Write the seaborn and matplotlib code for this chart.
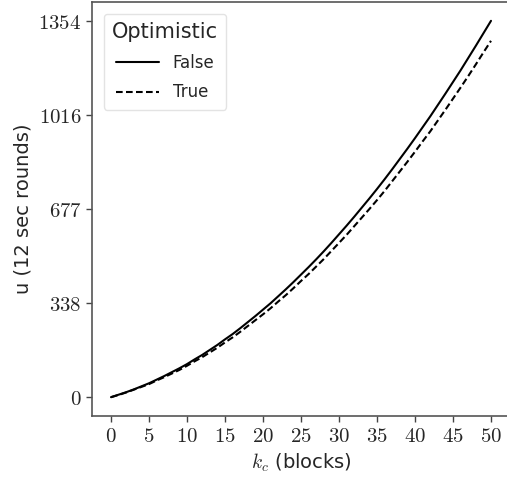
import numpy as np
import pandas as pd
import matplotlib
matplotlib.use("Agg")
import matplotlib.pyplot as plt
import seaborn as sns

# data (one estimate per block)
k_c = list(range(0, 51))
u_false = [0, 9, 18, 28, 39, 50, 63, 76, 90, 104,
           119, 136, 152, 170, 188, 208, 227, 248, 270, 292,
           315, 338, 363, 388, 414, 441, 468, 496, 525, 555,
           586, 617, 649, 682, 715, 749, 784, 820, 857, 894,
           932, 971, 1010, 1051, 1092, 1134, 1176, 1220, 1264, 1309,
           1354]
u_true = [0, 8, 17, 27, 37, 47, 60, 72, 85, 98,
          113, 129, 144, 161, 178, 197, 215, 235, 256, 277,
          298, 320, 344, 367, 392, 418, 443, 470, 497, 526,
          555, 584, 615, 646, 677, 709, 742, 777, 812, 847,
          883, 920, 956, 995, 1034, 1074, 1114, 1155, 1197, 1240,
          1282]
xticks = [0, 5, 10, 15, 20, 25, 30, 35, 40, 45, 50]
yticks = [0, 338.5, 677, 1015.5, 1354]
ytick_labels = ["0", "338", "677", "1016", "1354"]

df = pd.DataFrame({
    "k_c": k_c + k_c,
    "u": u_false + u_true,
    "Optimistic": ["False"] * len(k_c) + ["True"] * len(k_c),
})

sns.set_style("ticks")
plt.rcParams["mathtext.fontset"] = "cm"
plt.rcParams["font.family"] = ["DejaVu Sans"]

fig = plt.figure(figsize=(5.07, 4.80), dpi=100)
ax = fig.add_axes([92 / 507, 1 - 416 / 480, (510 - 92) / 507, (416 - 2) / 480])

sns.lineplot(data=df, x="k_c", y="u", style="Optimistic", color="black",
             dashes={"False": "", "True": (3.2, 1.6)}, linewidth=1.5, ax=ax)

ax.set_xticks(xticks)
ax.set_xticklabels([f"${t}$" for t in xticks], fontsize=15)
ax.set_yticks(yticks)
ax.set_yticklabels([f"${t}$" for t in ytick_labels], fontsize=15)
ax.set_xlabel(r"$k_c$ (blocks)", fontsize=14)
ax.set_ylabel("u (12 sec rounds)", fontsize=14)
ax.tick_params(length=4, width=1, color="#444444")
for s in ax.spines.values():
    s.set_color("#555555")
    s.set_linewidth(1.2)

leg = ax.legend(title="Optimistic", loc="upper left", fontsize=12,
                title_fontsize=15, handlelength=2.6, frameon=True,
                borderaxespad=0.7, labelspacing=0.7, borderpad=0.5)
leg.get_frame().set_edgecolor("#dddddd")

fig.savefig("out.png", dpi=100)
